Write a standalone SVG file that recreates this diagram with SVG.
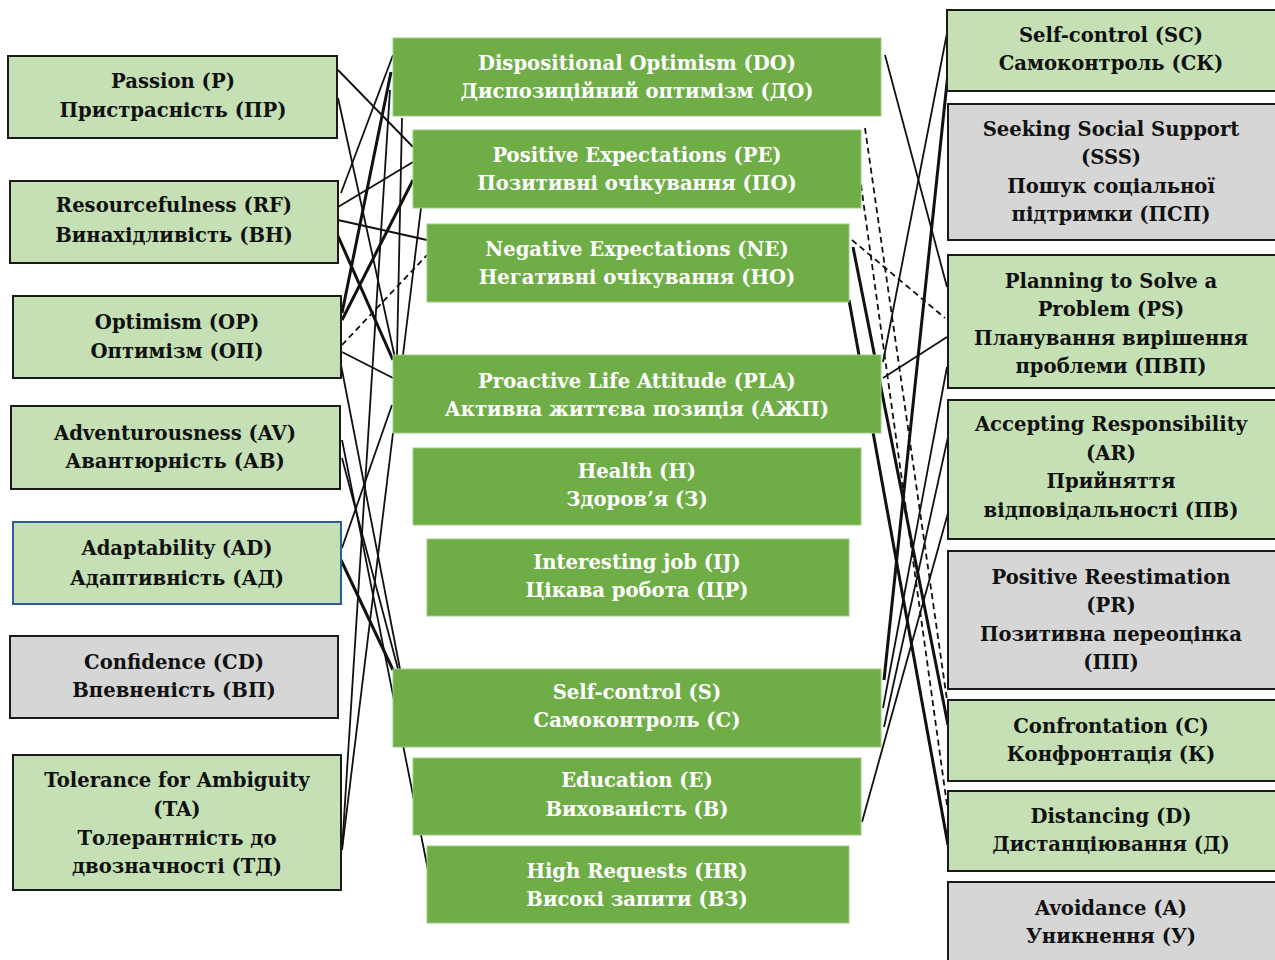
<svg xmlns="http://www.w3.org/2000/svg" width="1275" height="960" viewBox="0 0 1275 960">
<style>
text{font-family:"DejaVu Serif","Liberation Serif",serif;font-weight:bold;font-size:19.6px;text-anchor:middle}
.c rect{fill:#6fad47;stroke:#9ccb82;stroke-width:1}
.c text{fill:#ffffff}
.g rect{fill:#c5e0b4;stroke:#1a1a1a;stroke-width:2}
.y rect{fill:#d6d6d6;stroke:#1a1a1a;stroke-width:2}
.s text,.g text,.y text{fill:#111}
#conn line{stroke:#111;stroke-width:1.8;fill:none}
#conn line.t{stroke-width:3}
#conn line.d{stroke-dasharray:6 4}
</style>
<rect width="1275" height="960" fill="#ffffff"/>
<g id="conn">
<line x1="338" y1="70" x2="413" y2="147"/>
<line x1="338" y1="98" x2="395" y2="358"/>
<line x1="393" y1="55" x2="341" y2="193"/>
<line class="t" x1="391" y1="72" x2="342" y2="313"/>
<line x1="390" y1="90" x2="342" y2="850"/>
<line x1="413" y1="162" x2="338" y2="207"/>
<line x1="338" y1="220" x2="427" y2="240"/>
<line class="t" x1="338" y1="236" x2="393" y2="360"/>
<line class="t" x1="413" y1="180" x2="342" y2="320"/>
<line class="d" x1="342" y1="345" x2="427" y2="255"/>
<line x1="342" y1="352" x2="393" y2="378"/>
<line x1="402" y1="118" x2="397" y2="355"/>
<line x1="421" y1="208" x2="403" y2="355"/>
<line x1="341" y1="365" x2="400" y2="669"/>
<line x1="342" y1="440" x2="428" y2="870"/>
<line x1="342" y1="458" x2="398" y2="669"/>
<line x1="342" y1="548" x2="392" y2="405"/>
<line class="t" x1="341" y1="560" x2="393" y2="670"/>
<line x1="342" y1="850" x2="393" y2="433"/>
<line x1="885" y1="55" x2="947" y2="287"/>
<line x1="947" y1="33" x2="883" y2="362"/>
<line class="t" x1="948" y1="73" x2="884" y2="680"/>
<line class="d" x1="865" y1="128" x2="947" y2="700"/>
<line class="d" x1="861" y1="185" x2="947" y2="805"/>
<line class="d" x1="852" y1="240" x2="945" y2="318"/>
<line class="t" x1="853" y1="247" x2="948" y2="725"/>
<line class="t" x1="849" y1="300" x2="948" y2="845"/>
<line x1="883" y1="378" x2="947" y2="337"/>
<line x1="947" y1="367" x2="883" y2="708"/>
<line x1="948" y1="437" x2="884" y2="727"/>
<line x1="948" y1="513" x2="862" y2="822"/>
</g>
<g id="passion" class="g"><rect x="8" y="56" width="329" height="82"/><text x="173" y="88">Passion (P)</text><text x="173" y="117">Пристрасність (ПР)</text></g>
<g id="resourcefulness" class="g"><rect x="10" y="181" width="328" height="82"/><text x="174" y="212">Resourcefulness (RF)</text><text x="174" y="242">Винахідливість (ВН)</text></g>
<g id="optimism" class="g"><rect x="13" y="296" width="328" height="82"/><text x="177" y="329">Optimism (OP)</text><text x="177" y="358">Оптимізм (ОП)</text></g>
<g id="adventurousness" class="g"><rect x="11" y="406" width="329" height="83"/><text x="175" y="440">Adventurousness (AV)</text><text x="175" y="468">Авантюрність (АВ)</text></g>
<g id="adaptability" class="s"><rect x="13" y="522" width="328" height="82" fill="#c5e0b4" stroke="#2e5b9a" stroke-width="2"/><text x="177" y="555">Adaptability (AD)</text><text x="177" y="585">Адаптивність (АД)</text></g>
<g id="confidence" class="y"><rect x="10" y="636" width="328" height="82"/><text x="174" y="669">Confidence (CD)</text><text x="174" y="697">Впевненість (ВП)</text></g>
<g id="tolerance" class="g"><rect x="13" y="755" width="328" height="135"/><text x="177" y="787">Tolerance for Ambiguity</text><text x="177" y="816">(TA)</text><text x="177" y="845">Толерантність до</text><text x="177" y="873">двозначності (ТД)</text></g>
<g id="do" class="c"><rect x="393" y="38" width="488" height="78"/><text x="637" y="70">Dispositional Optimism (DO)</text><text x="637" y="98">Диспозиційний оптимізм (ДО)</text></g>
<g id="pe" class="c"><rect x="413" y="130" width="448" height="78"/><text x="637" y="162">Positive Expectations (PE)</text><text x="637" y="190">Позитивні очікування (ПО)</text></g>
<g id="ne" class="c"><rect x="427" y="224" width="422" height="78"/><text x="637" y="256">Negative Expectations (NE)</text><text x="637" y="284">Негативні очікування (НО)</text></g>
<g id="pla" class="c"><rect x="393" y="355" width="488" height="78"/><text x="637" y="388">Proactive Life Attitude (PLA)</text><text x="637" y="416">Активна життєва позиція (АЖП)</text></g>
<g id="health" class="c"><rect x="413" y="448" width="448" height="77"/><text x="637" y="478">Health (H)</text><text x="637" y="506">Здоров’я (З)</text></g>
<g id="ij" class="c"><rect x="427" y="539" width="422" height="77"/><text x="637" y="569">Interesting job (IJ)</text><text x="637" y="597">Цікава робота (ЦР)</text></g>
<g id="s" class="c"><rect x="393" y="669" width="488" height="78"/><text x="637" y="699">Self-control (S)</text><text x="637" y="727">Самоконтроль (С)</text></g>
<g id="e" class="c"><rect x="413" y="758" width="448" height="77"/><text x="637" y="787">Education (E)</text><text x="637" y="816">Вихованість (В)</text></g>
<g id="hr" class="c"><rect x="427" y="846" width="422" height="77"/><text x="637" y="878">High Requests (HR)</text><text x="637" y="906">Високі запити (ВЗ)</text></g>
<g id="sc" class="g"><rect x="947" y="10" width="330" height="81"/><text x="1111" y="42">Self-control (SC)</text><text x="1111" y="70">Самоконтроль (СК)</text></g>
<g id="sss" class="y"><rect x="948" y="104" width="329" height="136"/><text x="1111" y="136">Seeking Social Support</text><text x="1111" y="164">(SSS)</text><text x="1111" y="193">Пошук соціальної</text><text x="1111" y="221">підтримки (ПСП)</text></g>
<g id="ps" class="g"><rect x="948" y="255" width="329" height="133"/><text x="1111" y="288">Planning to Solve a</text><text x="1111" y="316">Problem (PS)</text><text x="1111" y="345">Планування вирішення</text><text x="1111" y="373">проблеми (ПВП)</text></g>
<g id="ar" class="g"><rect x="948" y="400" width="329" height="139"/><text x="1111" y="431">Accepting Responsibility</text><text x="1111" y="460">(AR)</text><text x="1111" y="488">Прийняття</text><text x="1111" y="517">відповідальності (ПВ)</text></g>
<g id="pr" class="y"><rect x="948" y="551" width="329" height="138"/><text x="1111" y="584">Positive Reestimation</text><text x="1111" y="612">(PR)</text><text x="1111" y="641">Позитивна переоцінка</text><text x="1111" y="669">(ПП)</text></g>
<g id="c" class="g"><rect x="948" y="700" width="329" height="81"/><text x="1111" y="733">Confrontation (C)</text><text x="1111" y="761">Конфронтація (К)</text></g>
<g id="d" class="g"><rect x="948" y="791" width="329" height="80"/><text x="1111" y="823">Distancing (D)</text><text x="1111" y="851">Дистанціювання (Д)</text></g>
<g id="a" class="y"><rect x="948" y="882" width="329" height="82"/><text x="1111" y="915">Avoidance (A)</text><text x="1111" y="943">Уникнення (У)</text></g>
</svg>
